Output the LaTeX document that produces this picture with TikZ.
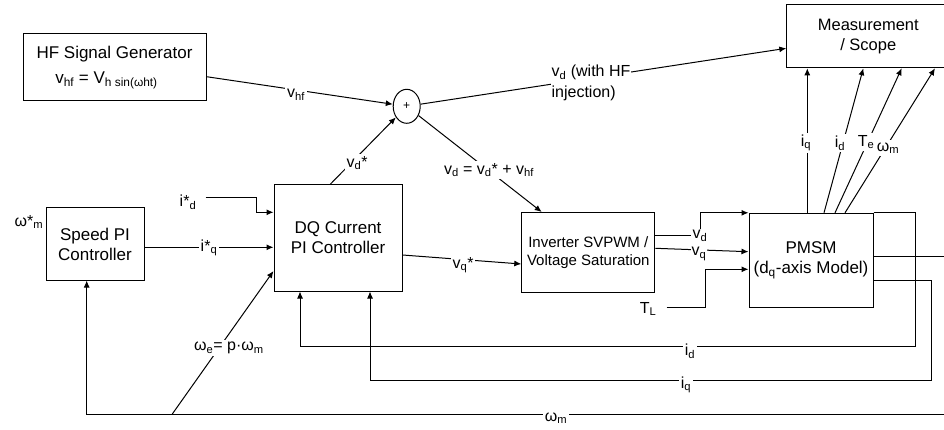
\documentclass[tikz,border=0pt]{standalone}
\usepackage{fontspec}
\setmainfont{Liberation Sans}
\usetikzlibrary{arrows.meta,shapes.geometric}

\begin{document}
\begin{tikzpicture}[x=1pt,y=-1pt,
  line width=1pt,
  arr/.style={-{Latex[length=7pt,width=6pt]}},
  box/.style={draw, rectangle, align=center, inner sep=0pt, font=\fontsize{17}{20}\selectfont},
  lbl/.style={fill=white, inner sep=2pt, font=\fontsize{16}{19}\selectfont},
]
\useasboundingbox (0,0) rectangle (944,430);
\clip (0,0) rectangle (944,430);

% ---------- blocks ----------
\node[box, minimum width=183pt, minimum height=67pt, font=\fontsize{17}{25}\selectfont] (hf) at (114.5,67.5)
  {HF Signal Generator\\v\textsubscript{hf} = V\textsubscript{h sin(ωht)}\hspace*{16pt}};
\node[box, minimum width=98pt, minimum height=72pt] (spd) at (95,244) {Speed PI\\Controller};
\node[box, minimum width=128pt, minimum height=106pt] (dq) at (338,238) {DQ Current\\PI Controller};
\node[box, minimum width=133pt, minimum height=80pt, font=\fontsize{15}{18}\selectfont] (inv) at (588.3,252.5)
  {Inverter SVPWM /\\Voltage Saturation};
\node[box, minimum width=124pt, minimum height=94pt] (pmsm) at (811,260.3) {PMSM\\(d\textsubscript{q}-axis Model)};
\node[box, minimum width=163pt, minimum height=63pt, font=\fontsize{16.5}{20}\selectfont] (meas) at (868.3,36.3)
  {Measurement\\/ Scope};
\node[draw, ellipse, minimum width=27pt, minimum height=34pt, inner sep=0pt, font=\fontsize{12}{12}\selectfont] (sum) at (406.7,106.3) {+};

% ---------- free-end coordinates ----------
\coordinate (idref) at (205.7,197.7);
\coordinate (tlstart) at (666.7,307.3);
\coordinate (wetap) at (172.3,414);

% ---------- connectors ----------
\draw[arr] (hf.east |- 0,76.7) -- (sum);
\draw[arr] (330,0 |- dq.north) -- (sum);
\draw[arr] (sum) -- (meas.west |- 0,48.3);
\draw[arr] (sum) -- (541.7,0 |- inv.north);

\draw[arr] (idref) -- (256.7,197.7) |- (dq.west |- 0,212.3);
\draw[arr] (spd.east |- 0,247.3) -- (dq.west |- 0,247.3);
\draw[arr] (wetap) -- (dq.west |- 0,271);
\draw[arr] (dq.east |- 0,255) -- (inv.west |- 0,264);

\node[lbl, inner sep=1pt] (lvd) at (700,236) {v\textsubscript{d}};
\draw (inv.east |- lvd.west) -- (lvd.west);
\draw[arr] (lvd.north) |- (pmsm.north west);
\draw[arr] (inv.east |- 0,248.3) -- (pmsm.west |- 0,251.7);
\draw[arr] (tlstart) -- (705.7,307.3) |- (pmsm.west |- 0,269.3);

% outputs to measurement
\draw[arr] (807.3,0 |- pmsm.north) -- (807.3,0 |- meas.south);
\draw[arr] (824,0 |- pmsm.north) -- (863.3,0 |- meas.south);
\draw[arr] (835,0 |- pmsm.north) -- (901.7,0 |- meas.south);
\draw[arr] (845,0 |- pmsm.north) -- (935,0 |- meas.south);

% feedback paths
\draw[arr] (pmsm.north east) -- (915.7,0 |- pmsm.north) -- (915.7,346.7) -| (300,0 |- dq.south);
\draw[arr] (pmsm.east |- 0,280) -- (931.7,280) -- (931.7,380.7) -| (370,0 |- dq.south);
\draw[arr] (pmsm.east |- 0,256.7) -- (960,256.7) -- (960,414) -| (86.7,0 |- spd.south);

% ---------- labels ----------
\node[lbl] (lvhf) at (296,95) {v\textsubscript{hf}};
\node[lbl] (lvdstar) at (357,163) {v\textsubscript{d}*};
\node[lbl] (lvdsum) at (489,170) {v\textsubscript{d} = v\textsubscript{d}* + v\textsubscript{hf}};
\node[lbl, align=left, inner sep=1pt, font=\fontsize{16}{20.5}\selectfont] (lvdhf) at (591,83) {v\textsubscript{d} (with HF\\injection)};
\node[lbl] (lidstar) at (188,202) {i*\textsubscript{d}};
\node[lbl] (liqstar) at (209,248) {i*\textsubscript{q}};
\node[font=\fontsize{16}{19}\selectfont, inner sep=0pt] (lwmstar) at (29,222) {ω*\textsubscript{m}};
\node[lbl] (lwe) at (229,348) {ω\textsubscript{e}= p·ω\textsubscript{m}};
\node[lbl] (lvqstar) at (463,265) {v\textsubscript{q}*};
\node[lbl, inner sep=1pt] (lvq) at (699,254) {v\textsubscript{q}};
\node[lbl] (ltl) at (648,309) {T\textsubscript{L}};
\node[lbl] (miq) at (806,143) {i\textsubscript{q}};
\node[lbl] (mid) at (840,143) {i\textsubscript{d}};
\node[lbl] (mte) at (866,142) {T\textsubscript{e}};
\node[lbl] (mwm) at (888,148) {ω\textsubscript{m}};
\node[lbl, inner ysep=3pt] (fid) at (690,351) {i\textsubscript{d}};
\node[lbl, inner ysep=3pt] (fiq) at (686,385) {i\textsubscript{q}};
\node[lbl, inner ysep=4pt] (fwm) at (556,418) {ω\textsubscript{m}};
\end{tikzpicture}
\end{document}
